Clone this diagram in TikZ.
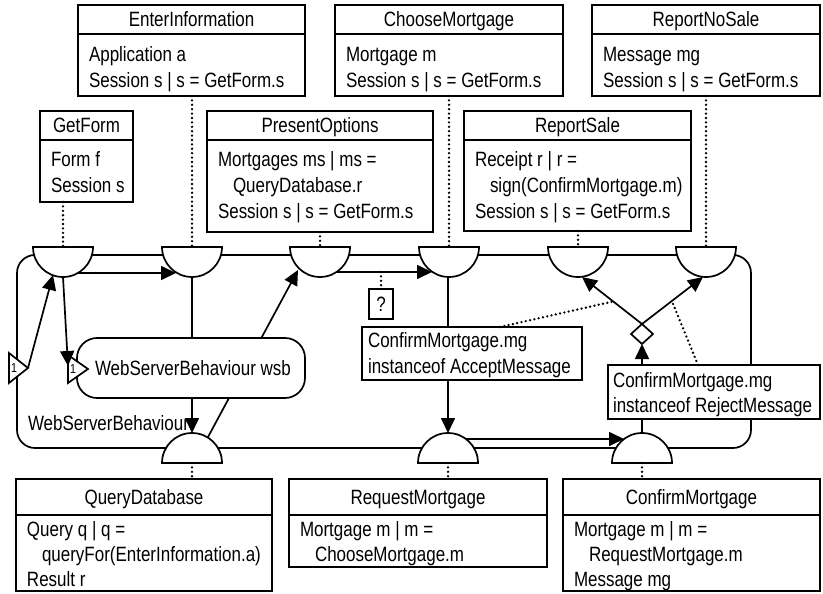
\documentclass[tikz,border=0pt]{standalone}
\usepackage{fontspec}
\setmainfont{Liberation Sans}[FakeStretch=0.82]
\usetikzlibrary{arrows.meta,calc,shapes.geometric}

% class box: name, left, top, right, rule, bottom, title
\newcommand\classbox[7]{%
  \node[frame, anchor=north west, minimum width={#4-#2}, minimum height={#6-#3}] (#1) at (#2,#3) {};
  \draw[ln] (#2,#5) -- (#4,#5);
  \node[txt] (#1-title) at ({(#2+#4)/2},{(#3+#5)/2}) {#7};
}
% join half-discs: name, centre x
\newcommand\topcup[2]{%
  \coordinate (#1) at (#2,247);
  \draw[ln, fill=white] (#2-30,247) -- (#2+30,247) arc[start angle=0, end angle=-180, radius=30pt] -- cycle;
}
\newcommand\botcup[2]{%
  \coordinate (#1) at (#2,463);
  \draw[ln, fill=white] (#2-30,463) -- (#2+30,463) arc[start angle=0, end angle=180, radius=30pt] -- cycle;
}

\begin{document}
\begin{tikzpicture}[x=1pt, y=-1pt,
  every node/.style={inner sep=0pt, outer sep=0pt},
  ln/.style={line width=1.7pt},
  frame/.style={draw, ln, fill=white},
  arr/.style={ln, -{Triangle[length=15pt, width=14pt]}},
  dots/.style={line width=2.6pt, dash pattern=on 0pt off 4.4pt, line cap=round},
  txt/.style={font=\fontsize{20.7}{25}\selectfont, text height=14.8pt, text depth=0pt},
  txtl/.style={txt, anchor=west},
  portlbl/.style={font=\fontsize{13}{13}\selectfont}
]
\useasboundingbox (0,0) rectangle (823,594);

% activity frame
\draw[ln, rounded corners=18pt] (17,255) rectangle (751,448);
\node[txtl] (wsblabel) at (28,423) {WebServerBehaviour};

% join points on the frame
\topcup{s1}{63}
\topcup{s2}{192}
\topcup{s3}{320}
\topcup{s4}{449}
\topcup{s5}{578}
\topcup{s6}{706}
\botcup{b1}{192}
\botcup{b2}{448}
\botcup{b3}{642}

% connector end points on the half-discs
\coordinate (s1r) at (78,273);
\coordinate (s2l) at (176,273);
\coordinate (s1b) at (63,277);
\coordinate (s1bl) at (53,275);
\coordinate (s2b) at (192,277);
\coordinate (s3bl) at (298,270);
\coordinate (s3r) at (337,272);
\coordinate (s4l) at (432,272);
\coordinate (s4b) at (448,277);
\coordinate (s5b) at (582,277);
\coordinate (s6b) at (703,277);
\coordinate (b1t) at (192,433);
\coordinate (b1r) at (208,437);
\coordinate (b2t) at (448,433);
\coordinate (b2r) at (466,439);
\coordinate (b3l) at (624,439);
\coordinate (b3t) at (642,433);

% control flow
\draw[arr] (s1r) -- (s2l);
\draw[arr] (s3r) -- (s4l);
\draw[arr] (b2r) -- (b3l);
\draw[arr] (s2b) -- (b1t);
\draw[arr] (b1r) -- (s3bl);
\draw[arr] (s4b) -- (b2t);

% choice diamond
\node[draw, ln, fill=white, diamond, minimum width=22, minimum height=20] (dia) at (642,334) {};
\draw[arr] (b3t) -- (dia.south);
\draw[arr] (dia.north) -- (s5b);
\draw[arr] (dia.north) -- (s6b);

% guards
\node[frame, anchor=north west, minimum width=220, minimum height=53] (accept) at (362,327) {};
\node[txtl] (accept-a) at (368,340) {ConfirmMortgage.mg};
\node[txtl] (accept-b) at (368,366) {instanceof AcceptMessage};
\node[frame, anchor=north west, minimum width=212, minimum height=54] (reject) at (608,365) {};
\node[txtl] (reject-a) at (613,380) {ConfirmMortgage.mg};
\node[txtl] (reject-b) at (613,405) {instanceof RejectMessage};
\draw[dots] (500,327) -- ($(dia.north)!0.48!(s5b)$);
\draw[dots] (698,365) -- ($(dia.north)!0.49!(s6b)$);

% pending-decision marker
\node[frame, txt, minimum width=24, minimum height=30] (query) at (381,304) {?};
\draw[dots] (381,272) -- (query.north);

% nested behaviour
\node[frame, rounded corners=20pt, anchor=north west, minimum width=228, minimum height=60] (wsb) at (77,338) {};
\node[txtl] (wsb-text) at (95,368) {WebServerBehaviour wsb};

% ports
\draw[ln, fill=white] (9,353) -- (28,368) -- (9,383) -- cycle;
\node[portlbl] (portA) at (14,368) {1};
\draw[ln, fill=white] (68,355) -- (88,369) -- (68,383) -- cycle;
\node[portlbl] (portB) at (73,369) {1};
\coordinate (portAtip) at (28,368);
\coordinate (portBtop) at (68,366);
\draw[arr] (portAtip) -- (s1bl);
\draw[arr] (s1b) -- (portBtop);

% top classes
\classbox{enter}{78}{5}{305}{34}{96}{EnterInformation}
\node[txtl] (enter-a) at (89,54) {Application a};
\node[txtl] (enter-b) at (89,80) {Session s | s = GetForm.s};
\classbox{choose}{335}{5}{563}{34}{96}{ChooseMortgage}
\node[txtl] (choose-a) at (346,54) {Mortgage m};
\node[txtl] (choose-b) at (346,80) {Session s | s = GetForm.s};
\classbox{nosale}{592}{5}{820}{34}{96}{ReportNoSale}
\node[txtl] (nosale-a) at (603,54) {Message mg};
\node[txtl] (nosale-b) at (603,80) {Session s | s = GetForm.s};
\classbox{getform}{40}{111}{133}{140}{202}{GetForm}
\node[txtl] (getform-a) at (51,159) {Form f};
\node[txtl] (getform-b) at (51,185) {Session s};
\classbox{present}{207}{111}{433}{140}{232}{PresentOptions}
\node[txtl] (present-a) at (218,159) {Mortgages ms | ms =};
\node[txtl] (present-b) at (233,185) {QueryDatabase.r};
\node[txtl] (present-c) at (218,211) {Session s | s = GetForm.s};
\classbox{sale}{464}{111}{691}{140}{231}{ReportSale}
\node[txtl] (sale-a) at (475,159) {Receipt r | r =};
\node[txtl] (sale-b) at (490,185) {sign(ConfirmMortgage.m)};
\node[txtl] (sale-c) at (475,211) {Session s | s = GetForm.s};

% bottom classes
\classbox{qdb}{16}{479}{272}{515}{591}{QueryDatabase}
\node[txtl] (qdb-a) at (27,529) {Query q | q =};
\node[txtl] (qdb-b) at (42,554) {queryFor(EnterInformation.a)};
\node[txtl] (qdb-c) at (27,579) {Result r};
\classbox{request}{289}{479}{547}{515}{567}{RequestMortgage}
\node[txtl] (request-a) at (300,529) {Mortgage m | m =};
\node[txtl] (request-b) at (315,554) {ChooseMortgage.m};
\classbox{confirm}{563}{479}{820}{515}{591}{ConfirmMortgage}
\node[txtl] (confirm-a) at (574,529) {Mortgage m | m =};
\node[txtl] (confirm-b) at (589,554) {RequestMortgage.m};
\node[txtl] (confirm-c) at (574,579) {Message mg};

% bindings between classes and join points
\draw[dots] (getform.south -| s1) -- (s1);
\draw[dots] (enter.south -| s2) -- (s2);
\draw[dots] (present.south -| s3) -- (s3);
\draw[dots] (choose.south -| s4) -- (s4);
\draw[dots] (sale.south -| s5) -- (s5);
\draw[dots] (nosale.south -| s6) -- (s6);
\draw[dots] (b1) -- (qdb.north -| b1);
\draw[dots] (b2) -- (request.north -| b2);
\draw[dots] (b3) -- (confirm.north -| b3);
\end{tikzpicture}
\end{document}
